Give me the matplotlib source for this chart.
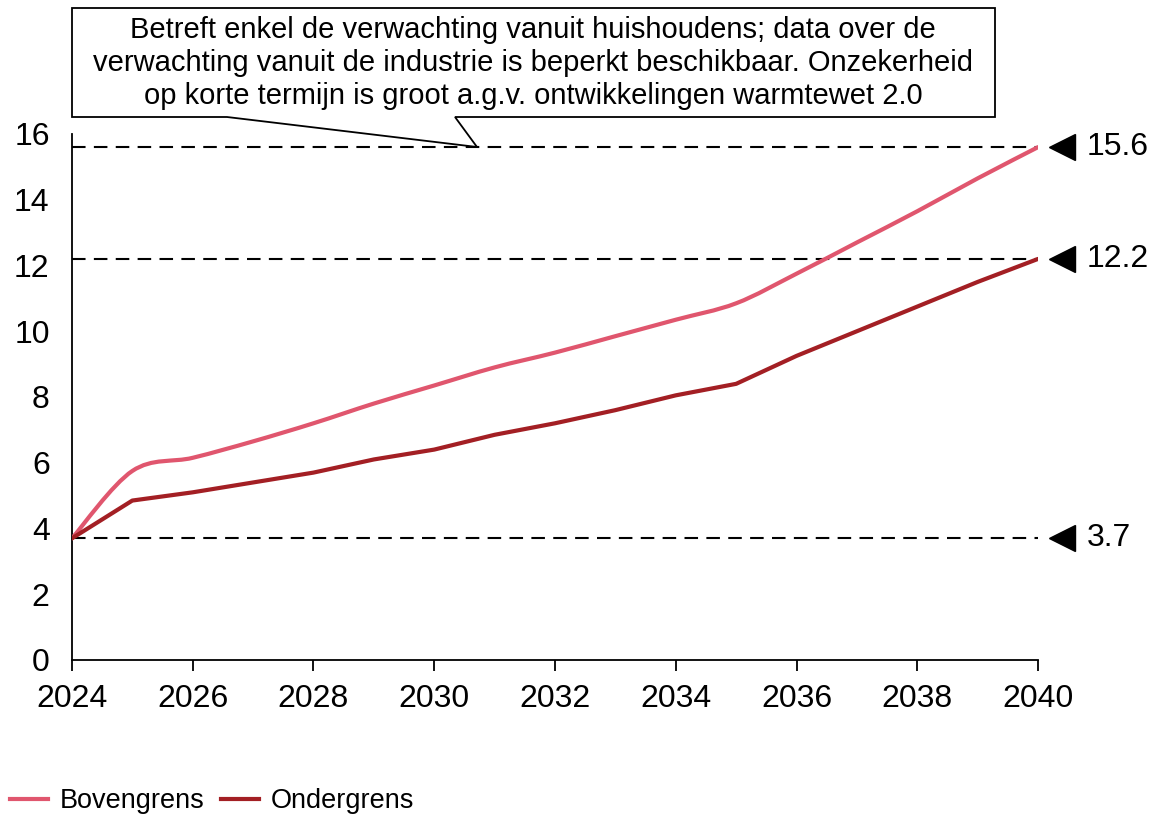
import numpy as np
import matplotlib
matplotlib.use("Agg")
import matplotlib.pyplot as plt
from matplotlib.path import Path
from matplotlib.patches import PathPatch, Polygon

plt.rcParams['font.family'] = ['Liberation Sans', 'DejaVu Sans']

############## data
years = [2024, 2025, 2026, 2027, 2028, 2029, 2030, 2031, 2032,
         2033, 2034, 2035, 2036, 2037, 2038, 2039, 2040]
bovengrens = [3.7, 5.75, 6.15, 6.65, 7.2, 7.8, 8.35, 8.9, 9.35,
              9.85, 10.35, 10.85, 11.75, 12.7, 13.65, 14.65, 15.6]
ondergrens = [3.7, 4.85, 5.1, 5.4, 5.7, 6.1, 6.4, 6.85, 7.2,
              7.6, 8.05, 8.4, 9.25, 10.0, 10.75, 11.5, 12.2]
ref_values = [15.6, 12.2, 3.7]
ref_labels = ["15.6", "12.2", "3.7"]
note = ("Betreft enkel de verwachting vanuit huishoudens; data over de\n"
        "verwachting vanuit de industrie is beperkt beschikbaar. Onzekerheid\n"
        "op korte termijn is groot a.g.v. ontwikkelingen warmtewet 2.0")

c_boven = "#E0566E"
c_onder = "#A31F24"


def smooth_path(x, y):
    # Excel-style smoothed line: Catmull-Rom segments as cubic bezier curves
    x = np.asarray(x, float)
    y = np.asarray(y, float)
    verts = [(x[0], y[0])]
    codes = [Path.MOVETO]
    n = len(x)
    for i in range(n - 1):
        p0 = np.array([x[max(i - 1, 0)], y[max(i - 1, 0)]])
        p1 = np.array([x[i], y[i]])
        p2 = np.array([x[i + 1], y[i + 1]])
        p3 = np.array([x[min(i + 2, n - 1)], y[min(i + 2, n - 1)]])
        c1 = p1 + (p2 - p0) / 6.0
        c2 = p2 - (p3 - p1) / 6.0
        verts += [tuple(c1), tuple(c2), tuple(p2)]
        codes += [Path.CURVE4] * 3
    return Path(verts, codes)


fig = plt.figure(figsize=(11.53, 8.14), dpi=100)
ax = fig.add_axes([0.0624, 0.1892, 0.8379, 0.6462])

# reference lines
for v in ref_values:
    ax.axhline(v, color="black", lw=1.5, ls=(0, (6.5, 4)), zorder=1)

# series
ax.add_patch(PathPatch(smooth_path(years, bovengrens), fill=False,
                       edgecolor=c_boven, lw=3, zorder=3, capstyle="round"))
ax.plot(years, ondergrens, color=c_onder, lw=3, zorder=3,
        solid_joinstyle="round", solid_capstyle="round")

# markers + value labels on the right
for v, lab in zip(ref_values, ref_labels):
    ax.plot([2040.4], [v], marker="<", color="black", markersize=19,
            clip_on=False, zorder=4)
    ax.text(2040.8, v, lab, fontsize=23, va="center", ha="left")

ax.set_xlim(2024, 2040)
ax.set_ylim(0, 16)
ax.set_xticks(range(2024, 2041, 2))
ax.set_yticks(range(0, 17, 2))
ax.tick_params(axis="x", labelsize=23, length=8, width=1.3, direction="out", pad=9)
ax.tick_params(axis="y", labelsize=23, length=0, pad=16)
for s in ["top", "right"]:
    ax.spines[s].set_visible(False)
for s in ["left", "bottom"]:
    ax.spines[s].set_linewidth(1.3)

# callout box
W, H = 1153.0, 814.0
pts = [(72, 8), (995, 8), (995, 117), (455, 117), (477, 147),
       (227, 117), (72, 117)]
callout = Polygon([(px / W, 1 - py / H) for px, py in pts], closed=True,
                  transform=fig.transFigure, facecolor="white",
                  edgecolor="black", lw=1.3, zorder=5)
fig.patches.append(callout)
fig.text(533 / W, 1 - 63 / H, note, fontsize=21, ha="center", va="center",
         linespacing=1.25, zorder=6)

# legend
leg = fig.legend(handles=[plt.Line2D([], [], color=c_boven, lw=3),
                          plt.Line2D([], [], color=c_onder, lw=3)],
                 labels=["Bovengrens", "Ondergrens"], loc="center left",
                 bbox_to_anchor=(10 / W, 1 - 801 / H), ncol=2, frameon=False,
                 fontsize=19.5, handlelength=1.4, handletextpad=0.45,
                 columnspacing=0.6, borderpad=0, borderaxespad=0)

fig.savefig("out.png", dpi=100)
